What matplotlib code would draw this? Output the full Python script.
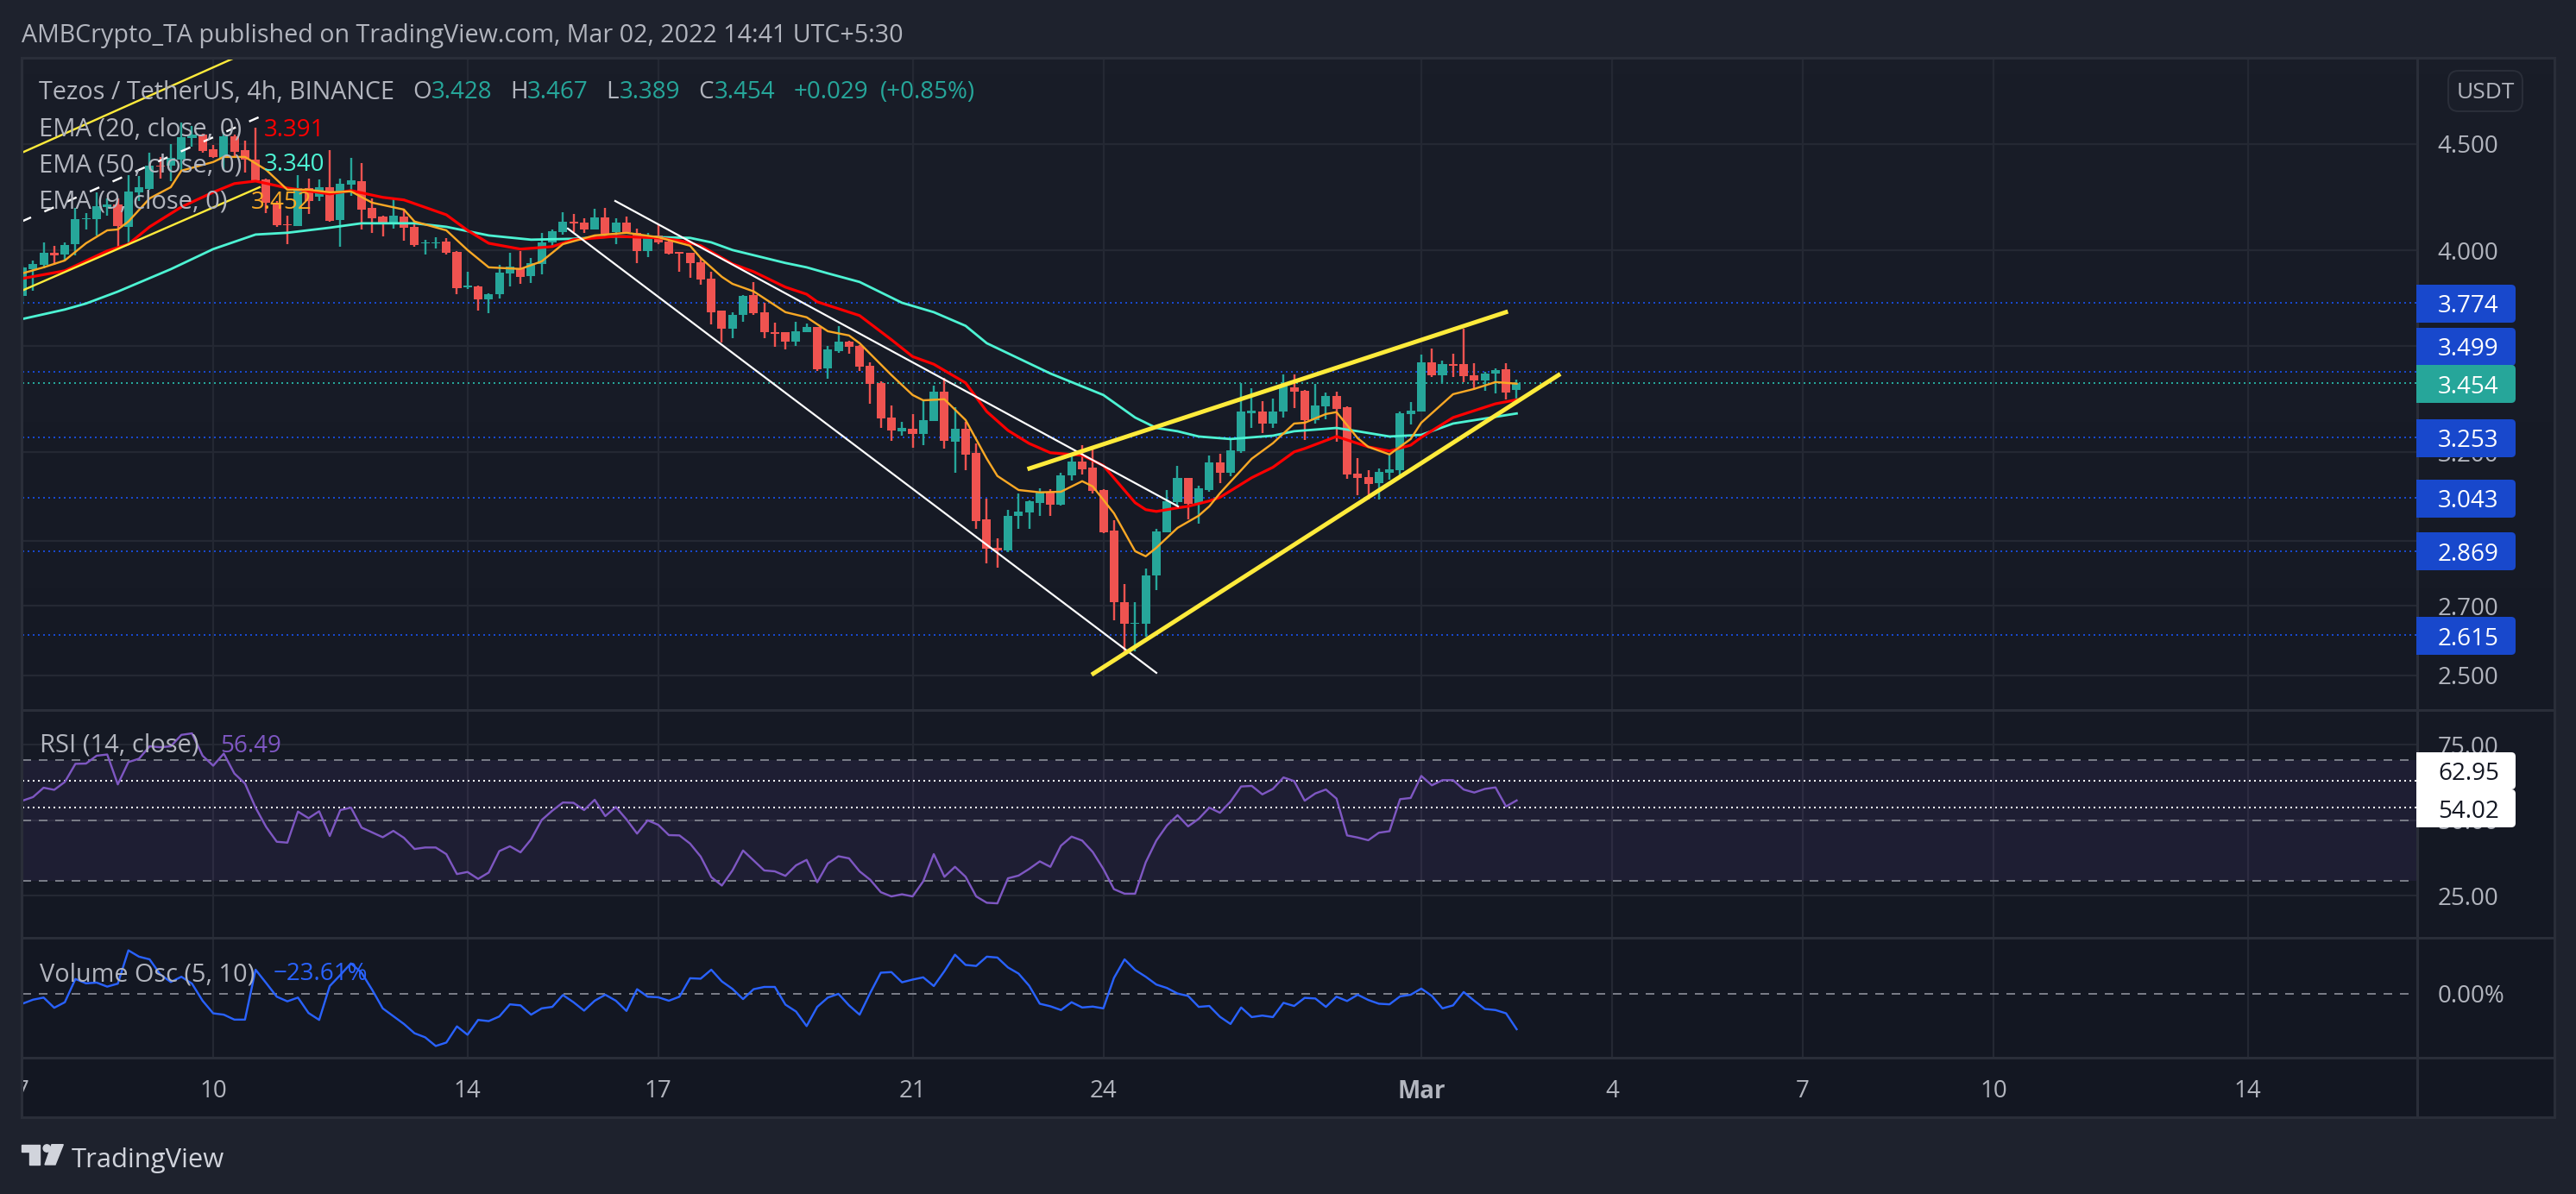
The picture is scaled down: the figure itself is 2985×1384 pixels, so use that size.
"""Tezos / TetherUS 4h chart, TradingView dark style"""
import numpy as np
import matplotlib
matplotlib.use("Agg")
import matplotlib.pyplot as plt
from matplotlib.colors import LinearSegmentedColormap
from matplotlib.patches import Rectangle, FancyBboxPatch, Polygon, Circle
from matplotlib.ticker import NullLocator

plt.rcParams["font.family"] = ["Open Sans", "DejaVu Sans"]

# ── candles (4h bars from Feb 7) ──
opens = [3.805,3.918,3.936,3.989,3.983,4.027,4.140,4.141,4.197,4.208,4.107,4.267,4.282,4.395,4.395,4.423,4.530,4.545,4.473,4.433,
         4.537,4.469,4.422,4.326,4.218,4.118,4.111,4.285,4.247,4.289,4.137,4.304,4.319,4.192,4.152,4.118,4.152,4.105,4.030,4.032,
         4.040,3.992,3.840,3.844,3.789,3.812,3.901,3.921,3.889,3.941,4.034,4.084,4.130,4.126,4.094,4.149,4.082,4.126,4.080,3.999,
         4.066,4.039,3.993,3.991,3.949,3.878,3.743,3.669,3.725,3.809,3.735,3.655,3.653,3.616,3.654,3.676,3.511,3.578,3.616,3.600,
         3.521,3.453,3.325,3.274,3.285,3.266,3.313,3.422,3.238,3.285,3.196,2.971,2.880,2.871,2.983,2.995,3.026,3.063,3.020,3.118,
         3.168,3.145,3.070,2.934,2.712,2.647,2.647,2.792,2.929,3.029,3.111,3.023,3.070,3.165,3.129,3.204,3.342,3.347,3.304,3.347,
         3.438,3.425,3.316,3.367,3.405,3.364,3.126,3.114,3.093,3.129,3.138,3.338,3.347,3.534,3.484,3.528,3.527,3.484,3.465,3.491,
         3.508,3.428]
highs = [3.932,3.957,4.036,4.021,4.037,4.194,4.168,4.265,4.238,4.238,4.348,4.345,4.458,4.437,4.501,4.610,4.589,4.552,4.494,4.559,
         4.545,4.516,4.581,4.333,4.225,4.157,4.348,4.333,4.326,4.470,4.333,4.433,4.406,4.238,4.157,4.231,4.183,4.132,4.047,4.058,
         4.055,3.998,3.906,3.846,3.815,3.936,3.989,3.998,3.968,4.079,4.092,4.173,4.165,4.143,4.190,4.193,4.143,4.154,4.098,4.077,
         4.118,4.056,3.994,3.991,3.971,3.905,3.743,3.735,3.807,3.862,3.775,3.694,3.655,3.697,3.688,3.676,3.600,3.680,3.620,3.602,
         3.535,3.461,3.370,3.308,3.338,3.392,3.445,3.473,3.364,3.309,3.231,3.041,2.910,3.002,3.056,3.034,3.075,3.073,3.129,3.197,
         3.224,3.221,3.071,2.967,2.767,2.711,2.813,2.940,3.069,3.153,3.111,3.083,3.188,3.195,3.249,3.455,3.435,3.386,3.396,3.487,
         3.487,3.429,3.451,3.418,3.422,3.367,3.180,3.138,3.144,3.190,3.347,3.383,3.564,3.589,3.541,3.568,3.669,3.531,3.498,3.511,
         3.531,3.467]
lows = [3.769,3.827,3.920,3.938,3.957,3.980,4.092,4.066,4.157,4.008,4.027,4.225,4.278,4.333,4.319,4.374,4.487,4.458,4.430,4.374,
        4.430,4.361,4.319,4.170,4.105,4.027,4.111,4.164,4.225,4.128,4.017,4.251,4.092,4.079,4.063,4.096,4.045,4.017,3.983,4.007,
        3.983,3.812,3.834,3.743,3.733,3.793,3.845,3.856,3.859,3.895,4.014,4.072,4.082,4.079,4.092,4.059,4.027,4.076,3.945,3.971,
        4.028,3.984,3.905,3.882,3.853,3.687,3.613,3.630,3.697,3.725,3.630,3.597,3.586,3.600,3.653,3.500,3.472,3.572,3.569,3.500,
        3.376,3.286,3.240,3.259,3.216,3.225,3.313,3.212,3.129,3.137,2.941,2.831,2.816,2.864,2.941,2.941,2.981,2.983,3.018,3.102,
        3.123,3.056,2.927,2.658,2.557,2.568,2.609,2.746,2.928,3.018,2.972,2.958,3.064,3.091,3.115,3.196,3.286,3.267,3.286,3.325,
        3.361,3.242,3.302,3.320,3.237,3.108,3.052,3.037,3.037,3.105,3.108,3.299,3.347,3.476,3.451,3.476,3.459,3.432,3.425,3.416,
        3.393,3.389]
closes = [3.926,3.941,3.989,3.979,4.025,4.140,4.146,4.200,4.208,4.110,4.268,4.289,4.392,4.389,4.430,4.533,4.545,4.466,4.436,4.537,
          4.462,4.423,4.322,4.218,4.115,4.113,4.285,4.225,4.289,4.133,4.305,4.323,4.186,4.146,4.118,4.157,4.102,4.025,4.034,4.037,
          3.989,3.837,3.846,3.789,3.812,3.903,3.929,3.886,3.945,4.037,4.087,4.130,4.123,4.094,4.149,4.075,4.127,4.082,3.999,4.063,
          4.034,3.987,3.987,3.944,3.873,3.735,3.669,3.725,3.804,3.732,3.655,3.647,3.616,3.659,3.676,3.506,3.586,3.616,3.594,3.517,
          3.452,3.321,3.278,3.287,3.266,3.316,3.422,3.240,3.285,3.192,2.965,2.877,2.871,2.982,2.997,3.030,3.064,3.020,3.120,3.168,
          3.141,3.067,2.929,2.710,2.647,2.650,2.792,2.932,3.031,3.111,3.023,3.075,3.165,3.129,3.207,3.347,3.350,3.304,3.347,3.443,
          3.422,3.316,3.370,3.405,3.357,3.123,3.111,3.090,3.132,3.141,3.341,3.350,3.534,3.484,3.527,3.522,3.481,3.465,3.491,3.503,
          3.418,3.454]

# ── EMA lines (read at the bars where they bend) ──
ema50_bars = [0,4,6,9,14,18,22,25,29,32,37,40,44,48,52,56,60,63,65,67,72,74,76,79,83,86,89,91,97,102,105,107,109,111,114,118,120,124,126,129,132,135,141]
ema50_vals = [3.708,3.747,3.772,3.822,3.918,4.006,4.071,4.079,4.102,4.122,4.122,4.106,4.067,4.048,4.052,4.063,4.059,4.056,4.036,4.002,3.945,3.926,3.900,3.863,3.775,3.736,3.680,3.610,3.491,3.409,3.325,3.287,3.275,3.256,3.247,3.259,3.275,3.287,3.275,3.256,3.262,3.303,3.340]
ema20_bars = [0,4,8,10,12,15,18,20,22,25,29,31,34,36,40,42,44,47,50,52,56,60,62,64,67,69,72,74,75,79,82,84,86,89,91,93,95,97,100,102,105,106,107,109,110,112,113,116,118,120,121,124,127,129,131,132,135,139,141]
ema20_vals = [3.878,3.911,3.998,4.028,4.106,4.197,4.266,4.307,4.319,4.286,4.258,4.274,4.242,4.230,4.161,4.090,4.032,4.006,4.017,4.048,4.063,4.056,4.044,4.021,3.941,3.907,3.841,3.811,3.779,3.722,3.624,3.557,3.527,3.455,3.347,3.278,3.231,3.198,3.189,3.153,3.026,3.003,2.997,3.009,3.014,3.032,3.044,3.111,3.147,3.201,3.213,3.256,3.219,3.204,3.225,3.253,3.325,3.376,3.391]
ema9_bars = [0,2,4,6,8,9,10,12,14,15,18,19,21,23,25,27,29,31,33,36,37,40,42,44,47,49,51,54,57,60,63,64,66,67,69,72,74,76,78,79,82,84,85,87,89,91,92,94,96,98,100,101,103,105,106,107,109,111,112,113,116,118,120,121,123,124,126,127,129,131,132,135,137,139,141]
ema9_vals = [3.900,3.926,3.956,4.032,4.090,4.094,4.130,4.237,4.290,4.369,4.411,4.436,4.436,4.373,4.278,4.278,4.266,4.270,4.217,4.185,4.130,4.090,4.002,3.926,3.919,3.952,4.028,4.067,4.079,4.059,4.021,3.967,3.885,3.855,3.823,3.736,3.715,3.658,3.641,3.610,3.485,3.409,3.389,3.393,3.316,3.177,3.117,3.069,3.061,3.063,3.099,3.081,2.991,2.868,2.852,2.879,2.943,2.983,3.014,3.058,3.177,3.232,3.303,3.306,3.338,3.345,3.250,3.219,3.192,3.247,3.306,3.412,3.432,3.458,3.452]

# ── oscillators ──
rsi_vals = [56.4,57.6,60.7,60.0,62.6,68.6,68.7,71.3,71.7,61.8,69.2,70.3,74.4,74.1,74.4,78.2,78.7,71.3,68.0,72.0,
            65.4,62.1,54.1,47.7,42.8,42.5,52.8,50.6,52.9,44.7,53.3,54.1,47.5,45.9,44.3,46.4,44.1,40.4,40.9,40.9,
            38.7,32.1,32.8,30.5,32.6,39.7,41.3,39.3,43.6,50.0,53.1,55.8,55.7,53.3,56.7,51.3,54.3,50.2,45.5,49.9,
            48.4,45.0,44.9,42.2,37.9,31.1,28.3,33.3,39.9,36.6,33.3,33.0,31.5,35.0,36.8,29.4,35.6,38.0,37.3,33.0,
            30.2,26.1,24.7,25.4,24.7,29.7,38.7,31.2,34.5,31.2,24.7,22.6,22.4,30.7,31.6,33.8,36.3,34.5,41.5,44.5,
            43.2,39.4,33.8,27.1,25.6,25.6,36.0,43.2,48.2,51.6,47.9,50.4,54.1,52.4,56.1,61.1,61.3,58.5,60.3,64.1,
            62.9,56.4,58.8,60.1,57.1,44.9,44.2,43.3,45.8,46.3,56.9,57.3,64.6,61.5,63.2,63.2,60.1,59.1,60.3,60.8,
            54.5,56.49]
vol_vals = [-6.6,-3.9,-2.5,-9.3,-5.6,9.9,7.0,7.5,4.8,6.8,29.0,24.8,23.0,13.0,7.9,11.4,6.8,-4.6,-13.0,-13.9,
            -17.2,-17.2,16.1,7.2,-1.9,-5.0,-2.5,-12.8,-17.4,5.2,12.6,20.3,14.1,2.7,-9.7,-14.9,-20.1,-26.3,-29.0,-34.8,
            -32.5,-21.7,-27.3,-17.4,-18.2,-15.1,-7.0,-7.7,-13.9,-9.7,-8.7,-0.8,-5.6,-11.2,-4.6,-0.6,-4.6,-11.4,3.1,-1.9,
            -2.3,-4.6,-1.9,10.4,10.1,16.1,8.3,3.3,-3.5,3.1,4.6,4.6,-7.2,-11.8,-21.5,-8.7,-2.5,0.0,-7.7,-13.9,
            0.6,14.1,14.5,7.7,9.5,11.0,5.2,15.1,26.1,19.3,18.6,24.8,24.2,17.6,13.5,5.4,-6.6,-8.3,-10.8,-5.6,
            -9.1,-8.5,-9.7,10.6,23.0,15.9,11.4,6.2,3.9,0.2,-1.4,-8.7,-8.1,-15.3,-20.1,-9.1,-15.5,-14.5,-15.5,-6.0,
            -8.1,-2.7,-3.1,-8.7,-1.9,-4.8,-0.6,-4.1,-6.6,-7.0,-1.7,-0.6,3.5,-1.4,-9.7,-7.7,1.2,-4.6,-10.1,-10.8,
            -13.0,-23.61]

# ── horizontal levels ──
levels = [3.774, 3.499, 3.253, 3.043, 2.869, 2.615]
last_close = 3.454
rsi_marks = [62.95, 54.02]

# ── trend lines drawn on the chart: (bar0, price0, bar1, price1) ──
thin_yellow = [(-0.04, 4.457, 19.87, 4.946), (-0.04, 3.826, 22.39, 4.290)]
dashed_white = (-0.08, 4.130, 23.05, 4.653)
thin_white = [(55.94, 4.225, 109.04, 3.014), (51.47, 4.098, 107.00, 2.507)]
wedge = [(95.03, 3.143, 139.98, 3.736), (101.06, 2.505, 144.95, 3.485)]

# ── axes ──
date_ticks = [0, 18, 42, 60, 84, 102, 132, 150, 168, 186, 210]
date_labels = ["7", "10", "14", "17", "21", "24", "Mar", "4", "7", "10", "14"]
price_ticks = [4.5, 4.0, 3.6, 3.2, 2.9, 2.7, 2.5]
price_labels = ["4.500", "4.000", "", "3.200", "", "2.700", "2.500"]

W, H = 2985, 1384
TEXT = "#b2b5be"
GRID = "#242833"
EDGE = "#2a2e39"
GREEN = "#26a69a"
RED = "#ef5350"
BLUE = "#1848cc"
XLIM = (-0.04, 225.98)
PX = 1.0 * 72 / 100  # one pixel in points


def pane(x0, y0, x1, y1, **kw):
    return fig.add_axes([x0 / W, 1 - y1 / H, (x1 - x0) / W, (y1 - y0) / H], **kw)


fig = plt.figure(figsize=(W / 100, H / 100), dpi=100, facecolor="#1e222d")

# background gradient behind the panes
bg = pane(25, 67, 2960, 1295, zorder=0)
cmap = LinearSegmentedColormap.from_list("pane", ["#191d28", "#131722"])
bg.imshow(np.linspace(0, 1, 64)[:, None], cmap=cmap, aspect="auto")
bg.axis("off")

ax1 = pane(25.5, 67, 2801, 823, zorder=1, facecolor="none")
ax2 = pane(25.5, 823, 2801, 1087, zorder=1, facecolor="none", sharex=ax1)
ax3 = pane(25.5, 1087, 2801, 1226, zorder=1, facecolor="none", sharex=ax1)

for ax in (ax1, ax2, ax3):
    for s in ax.spines.values():
        s.set_visible(False)
    ax.tick_params(length=0, colors=TEXT, labelsize=20)
    ax.grid(True, color=GRID, linewidth=2.2 * PX)
    ax.set_axisbelow(True)
    ax.yaxis.tick_right()

# ═══ price pane ═══
ax1.set_yscale("log")
ax1.set_xlim(*XLIM)
ax1.set_ylim(2.406, 4.950)
ax1.yaxis.set_minor_locator(NullLocator())
ax1.set_yticks(price_ticks)
ax1.set_yticklabels(price_labels)
ax1.tick_params(axis="y", pad=17)
ax1.tick_params(axis="x", labelbottom=False)

bars = np.arange(len(closes))
o, h, l, c = map(np.array, (opens, highs, lows, closes))
colors = np.where(c >= o, GREEN, RED)
ax1.vlines(bars, l, h, colors=colors, linewidth=2.4 * PX, zorder=3)
ax1.bar(bars, np.abs(c - o), bottom=np.minimum(o, c), width=0.82, color=colors, zorder=3)

for lv in levels:
    ax1.axhline(lv, color=BLUE, linewidth=2 * PX, linestyle=(0, (1, 2)), zorder=2)
ax1.axhline(last_close, color=GREEN, linewidth=2 * PX, linestyle=(0, (1, 2)), zorder=2)

ax1.plot(ema50_bars, ema50_vals, color="#4df3d3", linewidth=2.8 * PX, zorder=4)
ax1.plot(ema20_bars, ema20_vals, color="#ff0000", linewidth=3.2 * PX, zorder=4)
ax1.plot(ema9_bars, ema9_vals, color="#f9a825", linewidth=2.4 * PX, zorder=4)

for b0, p0, b1, p1 in thin_yellow:
    ax1.plot([b0, b1], [p0, p1], color="#ffeb3b", linewidth=2.4 * PX, zorder=5)
ax1.plot(dashed_white[0::2], dashed_white[1::2], color="white", linewidth=2.4 * PX,
         linestyle=(0, (5, 7)), zorder=5)
for b0, p0, b1, p1 in thin_white:
    ax1.plot([b0, b1], [p0, p1], color="white", linewidth=2.2 * PX, zorder=5)
for b0, p0, b1, p1 in wedge:
    ax1.plot([b0, b1], [p0, p1], color="#ffeb3b", linewidth=5 * PX, zorder=5)

# ═══ RSI pane ═══
ax2.set_ylim(11, 86.43)
ax2.set_yticks([75, 50, 25])
ax2.set_yticklabels(["75.00", "50.00", "25.00"])
ax2.tick_params(axis="y", pad=17)
ax2.tick_params(axis="x", labelbottom=False)
ax2.axhspan(30, 70, color="#7e57c2", alpha=0.1, linewidth=0, zorder=1)
for lv in (70, 50, 30):
    ax2.axhline(lv, color="#787b86", linewidth=2 * PX, linestyle=(0, (5, 4.5)), zorder=2)
for lv in rsi_marks:
    ax2.axhline(lv, color="white", linewidth=2 * PX, linestyle=(0, (1, 2)), zorder=2)
ax2.plot(bars, rsi_vals, color="#7e57c2", linewidth=2.4 * PX, zorder=3)

# ═══ Volume oscillator pane ═══
ax3.set_ylim(-42.6, 37.4)
ax3.set_yticks([0])
ax3.set_yticklabels(["0.00%"])
ax3.tick_params(axis="y", pad=17)
ax3.grid(False, axis="y")
ax3.axhline(0, color="#787b86", linewidth=2 * PX, linestyle=(0, (5, 4.5)), zorder=2)
ax3.plot(bars, vol_vals, color="#2962ff", linewidth=2.4 * PX, zorder=3)
ax3.set_xticks(date_ticks)
ax3.set_xticklabels(date_labels)
ax3.tick_params(axis="x", pad=18)
labels = ax3.get_xticklabels()
labels[6].set_fontweight("bold")

# ═══ overlay: frame, badges, legends ═══
top = pane(0, 0, W, H, zorder=10, facecolor="none")
top.set_xlim(0, W)
top.set_ylim(H, 0)
top.axis("off")

# cover the left part of the first date label, it is cut at the frame there
top.add_patch(Rectangle((0, 1232), 25, 60, color="#1e222d", zorder=1))

frame_w = 3 * PX
for y in (67, 823, 1087, 1226, 1295):
    top.plot([25, 2960], [y, y], color=EDGE, linewidth=frame_w, zorder=2)
for x in (25, 2801, 2960):
    top.plot([x, x], [67, 1295], color=EDGE, linewidth=frame_w, zorder=2)

clip = Rectangle((2800, 0), 185, H, transform=top.transData)


def badge(y0, y1, color, label, text_color="white"):
    p = FancyBboxPatch((2780, y0 + 4), 135 - 4, y1 - y0 - 8, boxstyle="round,pad=4,rounding_size=5",
                       facecolor=color, edgecolor="none", zorder=3)
    top.add_patch(p)
    p.set_clip_path(clip)
    top.text(2825, (y0 + y1) / 2, label, color=text_color, fontsize=20, va="center_baseline",
             ha="left", zorder=4)


badge(330, 374, BLUE, "3.774")
badge(380, 424, BLUE, "3.499")
badge(423, 467, GREEN, "3.454")
badge(486, 530, BLUE, "3.253")
badge(556, 600, BLUE, "3.043")
badge(617, 661, BLUE, "2.869")
badge(715, 759, BLUE, "2.615")
badge(872, 915, "white", "62.95", text_color="#131722")
badge(915, 959, "white", "54.02", text_color="#131722")

usdt = FancyBboxPatch((2841, 86), 78, 39, boxstyle="round,pad=4,rounding_size=12",
                      facecolor="#1a1e29", edgecolor=EDGE, linewidth=2 * PX, zorder=3)
top.add_patch(usdt)
top.text(2880, 105, "USDT", color=TEXT, fontsize=19, ha="center", va="center_baseline", zorder=4)


def label(x, y, s, color=TEXT, size=20):
    top.text(x, y, s, color=color, fontsize=size, ha="left", va="center_baseline", zorder=5)


label(25, 38, "AMBCrypto_TA published on TradingView.com, Mar 02, 2022 14:41 UTC+5:30", size=20.6)
label(45, 104, "Tezos / TetherUS, 4h, BINANCE", size=20.7)
for x, s, col in [(478, "O", TEXT), (500, "3.428", GREEN), (591, "H", TEXT), (611, "3.467", GREEN),
                  (702, "L", TEXT), (718, "3.389", GREEN), (809, "C", TEXT), (828, "3.454", GREEN),
                  (920, "+0.029", GREEN), (1020, "(+0.85%)", GREEN)]:
    label(x, 104, s, col)
label(45, 147, "EMA (20, close, 0)", size=21)
label(306, 147, "3.391", "#ff0000")
label(45, 188, "EMA (50, close, 0)", size=21)
label(306, 188, "3.340", "#4df3d3")
label(45, 231, "EMA (9, close, 0)", size=21)
label(291, 231, "3.452", "#f9a825")
label(46, 861, "RSI (14, close)", size=21)
label(255, 861, "56.49", "#7e57c2")
label(46, 1126, "Volume Osc (5, 10)", size=20.8)
label(317, 1126, "\u221223.61%", "#2962ff")

# TradingView logo
LOGO = "#d1d4dc"
top.add_patch(Polygon([(25, 1326.7), (46, 1326.7), (46, 1350), (34, 1350), (34, 1335), (25, 1335)],
                      color=LOGO, zorder=5))
top.add_patch(Circle((54.3, 1331), 4.2, color=LOGO, zorder=5))
top.add_patch(Polygon([(60, 1326.7), (73.3, 1326.7), (64, 1350), (52, 1350)], color=LOGO, zorder=5))
label(83, 1341, "TradingView", LOGO, 22.3)

fig.savefig("out.png", dpi=100, facecolor=fig.get_facecolor())
